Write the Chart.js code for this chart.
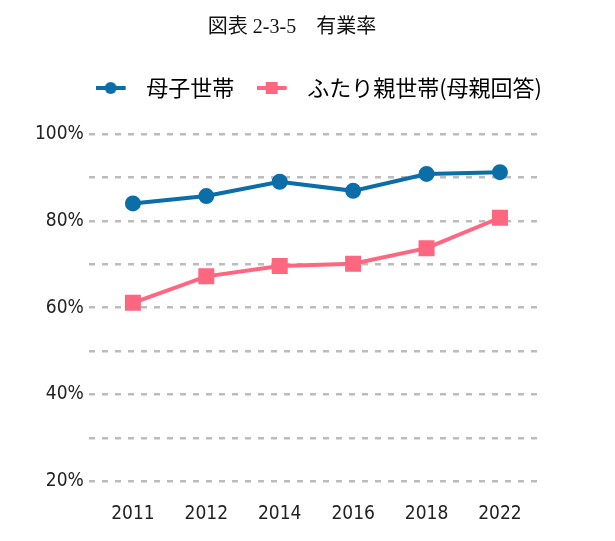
<!DOCTYPE html>
<html>
<head>
<meta charset="utf-8">
<script src="https://cdn.jsdelivr.net/npm/chart.js@4"></script>
<style>
  html, body { margin: 0; padding: 0; background: #fff; }
  #wrap { width: 615px; height: 541px; }
</style>
</head>
<body>
<div id="wrap"><canvas id="chart" width="615" height="541"></canvas></div>
<script>
// data
const years = ["2011", "2012", "2014", "2016", "2018", "2022"];
const singleMother = [84.0, 85.7, 89.0, 86.9, 90.8, 91.2];
const twoParent = [61.1, 67.2, 69.6, 70.1, 73.7, 80.7];
const yTicks = [20, 40, 60, 80, 100];

const BLUE = "#0b6ea8";
const PINK = "#ff6680";
const TICK_FONT = "'DejaVu Sans Condensed', 'Liberation Sans Narrow', 'Roboto', sans-serif";

// legend swatch: line with a marker in the middle, blank space on the right
function swatch(color, shape) {
  const c = document.createElement("canvas");
  c.width = 40;
  c.height = 14;
  const g = c.getContext("2d");
  g.strokeStyle = color;
  g.lineWidth = 4;
  g.beginPath();
  g.moveTo(0, 7);
  g.lineTo(30, 7);
  g.stroke();
  g.fillStyle = color;
  if (shape === "circle") {
    g.beginPath();
    g.arc(15, 7, 6, 0, Math.PI * 2);
    g.fill();
  } else {
    g.fillRect(9, 1, 12, 12);
  }
  return c;
}

const toPoints = (arr) => arr.map((v, i) => ({ x: i, y: v }));

// push the plot down below the legend and nudge title / legend right
const legendTweak = {
  id: "legendTweak",
  beforeInit(chart) {
    const fit = chart.legend.fit;
    chart.legend.fit = function () {
      fit.bind(chart.legend)();
      this.height += 25;
    };
  },
  afterLayout(chart) {
    chart.legend.left += 21;
    chart.legend.right += 21;
    if (chart.titleBlock) {
      chart.titleBlock.left += 5;
      chart.titleBlock.right += 5;
    }
  },
};

const ctx = document.getElementById("chart").getContext("2d");
new Chart(ctx, {
  type: "line",
  data: {
    datasets: [
      {
        label: "母子世帯",
        data: toPoints(singleMother),
        borderColor: BLUE,
        backgroundColor: BLUE,
        borderWidth: 4,
        pointStyle: "circle",
        pointRadius: 6,
        pointHoverRadius: 6,
        legendSwatch: swatch(BLUE, "circle"),
      },
      {
        label: "ふたり親世帯(母親回答)",
        data: toPoints(twoParent),
        borderColor: PINK,
        backgroundColor: PINK,
        borderWidth: 4,
        pointStyle: "rect",
        pointRadius: 8.5,
        pointHoverRadius: 8.5,
        legendSwatch: swatch(PINK, "rect"),
      },
    ],
  },
  plugins: [legendTweak],
  options: {
    responsive: false,
    animation: false,
    layout: { padding: { left: 30, right: 71, top: 6, bottom: 3 } },
    plugins: {
      title: {
        display: true,
        text: "図表 2-3-5　有業率",
        color: "#111",
        font: { family: "'Liberation Serif', 'Noto Sans CJK JP', serif", size: 20, weight: "normal" },
        padding: { top: 10, bottom: 14 },
      },
      legend: {
        position: "top",
        align: "end",
        labels: {
          usePointStyle: true,
          pointStyleWidth: 39,
          boxHeight: 14,
          padding: 23,
          color: "#222",
          font: { family: "'Noto Sans CJK JP', sans-serif", size: 22 },
          generateLabels: (chart) =>
            chart.data.datasets.map((ds, i) => ({
              text: ds.label,
              pointStyle: ds.legendSwatch,
              fillStyle: ds.borderColor,
              strokeStyle: ds.borderColor,
              lineWidth: 0,
              hidden: false,
              datasetIndex: i,
            })),
        },
      },
      tooltip: { enabled: false },
    },
    scales: {
      x: {
        type: "linear",
        min: -0.6,
        max: 5.6,
        afterBuildTicks: (axis) => {
          axis.ticks = years.map((y, i) => ({ value: i }));
        },
        grid: { display: false },
        border: { display: false },
        ticks: {
          callback: (v) => years[v],
          color: "#222",
          padding: 13,
          maxRotation: 0,
          font: { family: TICK_FONT, size: 19 },
        },
      },
      y: {
        min: 20,
        max: 100,
        afterBuildTicks: (axis) => {
          const t = [];
          for (let v = 20; v <= 100; v += 10) t.push({ value: v });
          axis.ticks = t;
        },
        grid: {
          color: "#bcbcbc",
          lineWidth: 2.5,
          drawTicks: false,
        },
        border: { display: false, dash: [6, 7] },
        ticks: {
          callback: (v) => (yTicks.includes(v) ? v + "%" : ""),
          color: "#222",
          padding: 5,
          font: { family: TICK_FONT, size: 19 },
        },
      },
    },
  },
});
</script>
</body>
</html>
